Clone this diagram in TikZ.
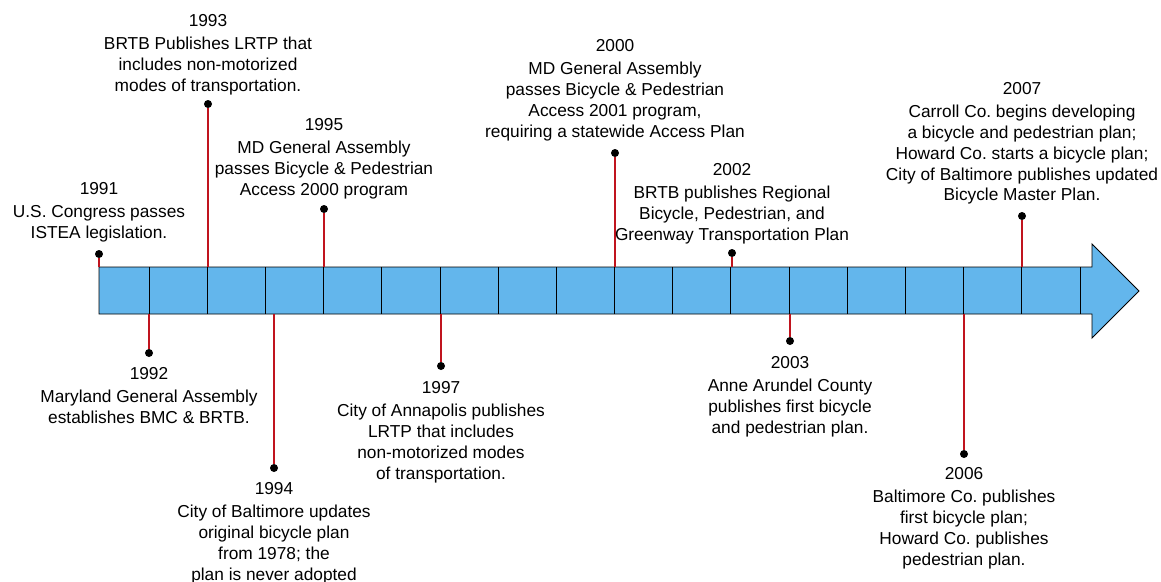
\documentclass[tikz,border=0pt]{standalone}
\usepackage{fontspec}
\setmainfont{Liberation Sans}
\frenchspacing
\definecolor{barblue}{RGB}{99,182,236}
\definecolor{stemred}{RGB}{192,20,30}
\begin{document}
\begin{tikzpicture}[x=1pt,y=-1pt,
  evtext/.style={align=center, inner sep=0pt, anchor=north, font=\fontsize{17.3}{20.7}\selectfont},
  evdot/.style={circle, fill=black, inner sep=0pt, minimum size=8pt},
  stem/.style={draw=stemred, line width=1.2pt},
  divider/.style={draw=black, line width=0.9pt},
  barshape/.style={fill=barblue, draw=black, line width=0.9pt, line join=miter}]
\useasboundingbox (0,0) rectangle (1161,581);

% timeline arrow
\draw[barshape] (99,267) -- (1092,267) -- (1092,244) -- (1139,291) -- (1092,338) -- (1092,314) -- (99,314) -- cycle;
\foreach \i in {0,...,16} \draw[divider] ({149+58.19*\i},267) -- ({149+58.19*\i},314);

% anchor points on the bar
\coordinate (b1991) at (99,267);
\coordinate (b1992) at (149,314);
\coordinate (b1993) at (208,267);
\coordinate (b1994) at (274,314);
\coordinate (b1995) at (324,267);
\coordinate (b1997) at (441,314);
\coordinate (b2000) at (615,267);
\coordinate (b2002) at (732,267);
\coordinate (b2003) at (790,314);
\coordinate (b2006) at (964,314);
\coordinate (b2007) at (1022,267);

% dots
\node[evdot] (d1991) at (99,254) {};
\node[evdot] (d1992) at (149,353) {};
\node[evdot] (d1993) at (208,104) {};
\node[evdot] (d1994) at (274,468) {};
\node[evdot] (d1995) at (324,209) {};
\node[evdot] (d1997) at (441,366) {};
\node[evdot] (d2000) at (615,153) {};
\node[evdot] (d2002) at (732,253) {};
\node[evdot] (d2003) at (790,341) {};
\node[evdot] (d2006) at (964,454) {};
\node[evdot] (d2007) at (1022,216) {};

% stems
\foreach \y in {1991,1992,1993,1994,1995,1997,2000,2002,2003,2006,2007}
  \draw[stem] (d\y) -- (b\y);

% texts
\node[evtext] (t1991) at (99,182) {1991\\[3pt]U.S. Congress passes\\ISTEA legislation.};
\node[evtext] (t1992) at (149,367) {1992\\[3pt]Maryland General Assembly\\establishes BMC \& BRTB.};
\node[evtext] (t1993) at (208,14) {1993\\[3pt]BRTB Publishes LRTP that\\includes non-motorized\\modes of transportation.};
\node[evtext] (t1994) at (274,482) {1994\\[3pt]City of Baltimore updates\\original bicycle plan\\from 1978; the\\plan is never adopted};
\node[evtext] (t1995) at (324,118) {1995\\[3pt]MD General Assembly\\passes Bicycle \& Pedestrian\\Access 2000 program};
\node[evtext] (t1997) at (441,381) {1997\\[3pt]City of Annapolis publishes\\LRTP that includes\\non-motorized modes\\of transportation.};
\node[evtext] (t2000) at (615,39) {2000\\[3pt]MD General Assembly\\passes Bicycle \& Pedestrian\\Access 2001 program,\\requiring a statewide Access Plan};
\node[evtext] (t2002) at (732,163) {2002\\[3pt]BRTB publishes Regional\\Bicycle, Pedestrian, and\\Greenway Transportation Plan};
\node[evtext] (t2003) at (790,356) {2003\\[3pt]Anne Arundel County\\publishes first bicycle\\and pedestrian plan.};
\node[evtext] (t2006) at (964,467) {2006\\[3pt]Baltimore Co. publishes\\first bicycle plan;\\Howard Co. publishes\\pedestrian plan.};
\node[evtext] (t2007) at (1022,82) {2007\\[3pt]Carroll Co. begins developing\\a bicycle and pedestrian plan;\\Howard Co. starts a bicycle plan;\\City of Baltimore publishes updated\\Bicycle Master Plan.};
\end{tikzpicture}
\end{document}
